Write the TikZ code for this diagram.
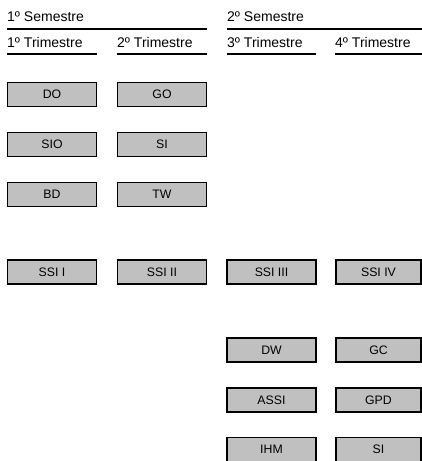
\documentclass[tikz,border=0pt]{standalone}
\usepackage{fontspec}
\setmainfont{Liberation Sans}
\definecolor{boxgray}{HTML}{C0C0C0}
\begin{document}
\begin{tikzpicture}[x=1pt,y=-1pt,
  subj/.style={draw=black, line width=1.9pt, fill=boxgray, minimum height=24pt, inner sep=0pt, font=\fontsize{12.3}{14}\selectfont},
  wa/.style={subj, minimum width=89pt},
  wb/.style={subj, minimum width=85pt},
  hdr/.style={anchor=base west, inner sep=0pt, font=\fontsize{14}{16}\selectfont},
  rule/.style={line width=2.8pt}
]
\useasboundingbox (0,0) rectangle (422,461);
% headers
\node[hdr] (s1) at (7,21) {1º Semestre};
\node[hdr] (s2) at (227,21) {2º Semestre};
\draw[rule] (7,29) -- (207,29);
\draw[rule] (227,29) -- (422,29);
\node[hdr] (t1) at (7,47) {1º Trimestre};
\node[hdr] (t2) at (117,47) {2º Trimestre};
\node[hdr] (t3) at (227,47) {3º Trimestre};
\node[hdr] (t4) at (335,47) {4º Trimestre};
\draw[rule] (7,54) -- (97,54);
\draw[rule] (117,54) -- (207,54);
\draw[rule] (227,54) -- (316,54);
\draw[rule] (335,54) -- (422,54);
% column 1
\node[wa] (do) at (52,94.5) {DO};
\node[wa] (sio) at (52,144.5) {SIO};
\node[wa] (bd) at (52,194.5) {BD};
\node[wa] (ssi1) at (52,272) {SSI I};
% column 2
\node[wa] (go) at (162,94.5) {GO};
\node[wa] (si1) at (162,144.5) {SI};
\node[wa] (tw) at (162,194.5) {TW};
\node[wa] (ssi2) at (162,272) {SSI II};
% column 3
\node[wa] (ssi3) at (271.5,272) {SSI III};
\node[wa] (dw) at (271.5,350) {DW};
\node[wa] (assi) at (271.5,400) {ASSI};
\node[wa] (ihm) at (271.5,449.5) {IHM};
% column 4
\node[wb] (ssi4) at (378.5,272) {SSI IV};
\node[wb] (gc) at (378.5,350) {GC};
\node[wb] (gpd) at (378.5,400) {GPD};
\node[wb] (si2) at (378.5,449.5) {SI};
\end{tikzpicture}
\end{document}
